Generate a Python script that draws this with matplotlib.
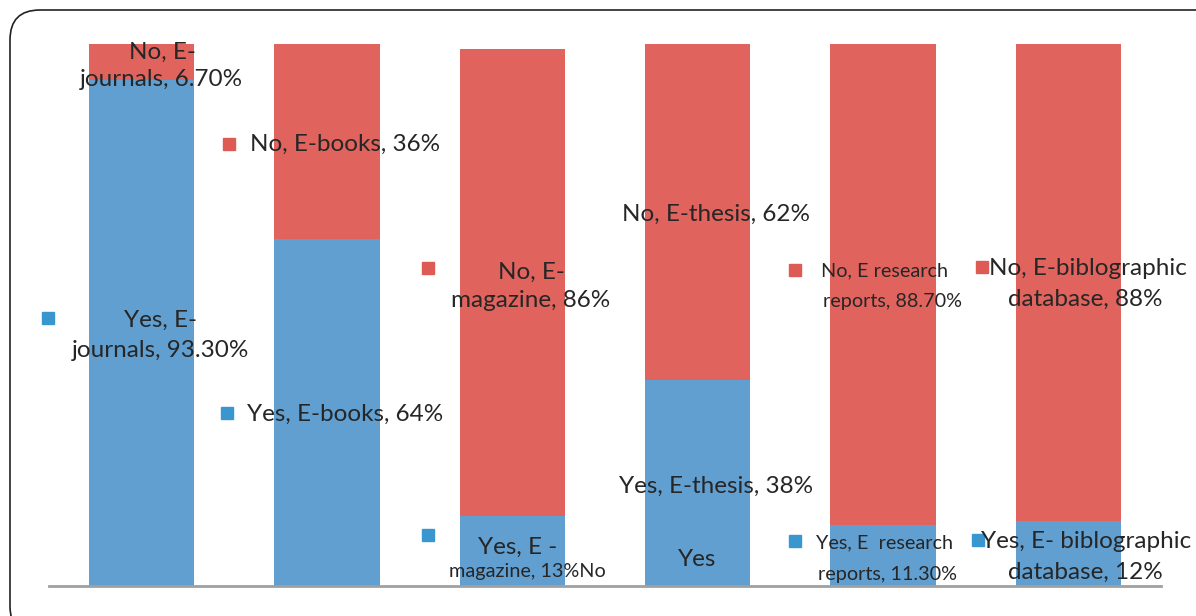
import numpy as np
import matplotlib.pyplot as plt
from matplotlib.patches import FancyBboxPatch

plt.rcParams['font.family'] = ['Lato', 'DejaVu Sans']

# e-resource usage, percent of respondents
resources = ['E-journals', 'E-books', 'E-magazine', 'E-thesis',
             'E research reports', 'E-biblographic database']
yes_pct = [93.3, 64, 13, 38, 11.3, 12]
no_pct = [6.7, 36, 86, 62, 88.7, 88]

blue = '#619FD1'
red = '#E0635D'
key_blue = '#3A96CF'
key_red = '#DD5A55'
txt = '#262626'

fig = plt.figure(figsize=(11.96, 6.16), dpi=100)

# rounded frame round the whole chart
frame = FancyBboxPatch((10/1196, 0.0 - 20/616), 1.2, (616 - 10 + 20)/616,
                       boxstyle='round,pad=0,rounding_size=0.025',
                       transform=fig.transFigure, fill=False,
                       edgecolor='#222222', linewidth=1.2, mutation_aspect=1196/616)
fig.patches.append(frame)

ax = fig.add_axes([49/1196, 30/616, 1112/1196, 542/616])
x = np.arange(len(resources))
w = 0.567
ax.bar(x, yes_pct, w, color=blue, zorder=2)
ax.bar(x, no_pct, w, bottom=yes_pct, color=red, zorder=2)

ax.set_xlim(-0.5, len(resources) - 0.5)
ax.set_ylim(0, 100)
for s in ['top', 'right', 'left']:
    ax.spines[s].set_visible(False)
ax.spines['bottom'].set_color('#A0A0A0')
ax.spines['bottom'].set_linewidth(2)
ax.set_xticks([])
ax.set_yticks([])

FS = 17.5
FS_N = 14.3  # narrower label lines

# data labels: (text, x, y, halign, size)
labels = [
    ('No, E-', 0.11, 98.5, 'center', FS),
    ('journals, 6.70%', 0.104, 93.4, 'center', FS),
    ('No, E-books, 36%', 0.585, 81.4, 'left', FS),
    ('No, E-', 2.101, 57.9, 'center', FS),
    ('magazine, 86%', 2.101, 52.6, 'center', FS),
    ('No, E-thesis, 62%', 3.1, 68.6, 'center', FS),
    ('No, E research', 4.006, 58.1, 'center', FS_N),
    ('reports, 88.70%', 4.05, 52.4, 'center', FS_N),
    ('No, E-biblographic', 5.107, 58.5, 'center', FS),
    ('database, 88%', 5.09, 52.8, 'center', FS),
    ('Yes, E-', 0.104, 49.1, 'center', FS),
    ('journals, 93.30%', 0.104, 43.4, 'center', FS),
    ('Yes, E-books, 64%', 0.569, 31.7, 'left', FS),
    ('Yes, E -', 2.031, 7.2, 'center', FS),
    ('magazine, 13%No', 2.08, 2.6, 'center', FS_N),
    ('Yes, E-thesis, 38%', 3.1, 18.3, 'center', FS),
    ('Yes', 2.997, 4.8, 'center', FS),
    ('Yes, E  research', 4.006, 7.9, 'center', FS_N),
    ('reports, 11.30%', 4.022, 2.2, 'center', FS_N),
    ('Yes, E- biblographic', 5.096, 8.3, 'center', FS),
    ('database, 12%', 5.09, 2.6, 'center', FS),
]
for t, lx, ly, ha, fs in labels:
    ax.text(lx, ly, t, ha=ha, va='center', fontsize=fs, color=txt,
            zorder=4, clip_on=False)

# little legend keys next to some labels
keys_red = [(0.471, 81.5), (1.545, 58.7), (3.526, 58.3), (4.535, 58.9)]
keys_blue = [(-0.505, 49.4), (0.461, 31.9), (1.545, 9.4), (3.526, 8.3), (4.513, 8.5)]
for kx, ky in keys_red:
    ax.plot(kx, ky, 's', ms=8.5, color=key_red, zorder=3, clip_on=False)
for kx, ky in keys_blue:
    ax.plot(kx, ky, 's', ms=8.5, color=key_blue, zorder=3, clip_on=False)

fig.savefig('out.png', dpi=100, facecolor='white')
